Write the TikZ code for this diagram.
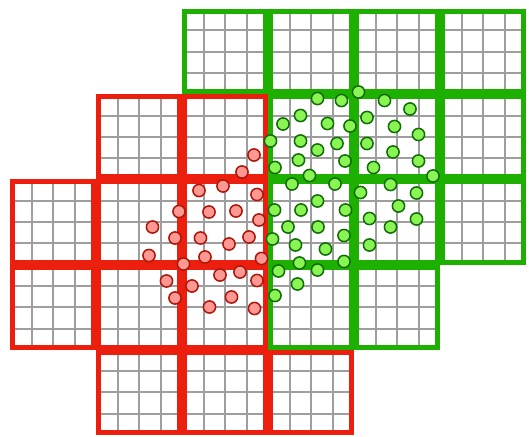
\documentclass[tikz,border=0pt]{standalone}
\definecolor{rd}{RGB}{236,31,14}
\definecolor{gn}{RGB}{30,176,0}
\definecolor{rdfill}{RGB}{255,152,147}
\definecolor{rdedge}{RGB}{175,22,10}
\definecolor{gnfill}{RGB}{136,245,82}
\definecolor{gnedge}{RGB}{18,108,10}
\definecolor{gridgray}{RGB}{158,158,158}
\tikzset{
  gridline/.style={draw=gridgray, line width=2pt},
  redborder/.style={draw=rd, line width=5pt},
  greenborder/.style={draw=gn, line width=5pt},
  reddot/.style={draw=rdedge, fill=rdfill, line width=1.5pt},
  greendot/.style={draw=gnedge, fill=gnfill, line width=1.5pt},
}
\begin{document}
\begin{tikzpicture}[x=1pt,y=-1pt]
\useasboundingbox (0,0) rectangle (529,436);
\fill[white] (0,0) rectangle (529,436);
% block lists: col/row
\def\redblocks{1/1,2/1,0/2,1/2,2/2,0/3,1/3,2/3,1/4,2/4,3/4}
\def\greenblocks{2/0,3/0,4/0,5/0,3/1,4/1,5/1,3/2,4/2,5/2,3/3,4/3}
% grid lines
\foreach \c/\r in {1/1,2/1,0/2,1/2,2/2,0/3,1/3,2/3,1/4,2/4,3/4,2/0,3/0,4/0,5/0,3/1,4/1,5/1,3/2,4/2,5/2,3/3,4/3} {
  \pgfmathsetmacro\bx{10+86*\c}
  \pgfmathsetmacro\by{9+85.2*\r}
  \foreach \k in {1,2,3} {
    \draw[gridline] ({\bx+21.5*\k},\by) -- ({\bx+21.5*\k},{\by+85.2});
    \draw[gridline] (\bx,{\by+21.3*\k}) -- ({\bx+86},{\by+21.3*\k});
  }
}
% borders
\foreach \c/\r in \redblocks {
  \pgfmathsetmacro\bx{10+86*\c}
  \pgfmathsetmacro\by{9+85.2*\r}
  \draw[redborder] ({\bx+2.5},{\by+2.5}) rectangle ({\bx+83.5},{\by+82.7});
}
\foreach \c/\r in \greenblocks {
  \pgfmathsetmacro\bx{10+86*\c}
  \pgfmathsetmacro\by{9+85.2*\r}
  \draw[greenborder] ({\bx+2.5},{\by+2.5}) rectangle ({\bx+83.5},{\by+82.7});
}
% red points
\foreach \x/\y in {254/155,242/172,199/190.5,223/186,257/194.5,179/211.5,209/212,236/211,259/220,152.5/227,
  175/238,200.5/238,229/244,249/237,149/255.5,183.5/264,205/257,261.5/258.5,220/275,240/272,
  166.5/281,192/286,257/280.5,175/298,231.5/297,209.5/307,254.5/308.5}
  \draw[reddot] (\x,\y) circle (6.1);
% green points
\foreach \x/\y in {317.5/98.5,341.5/100.5,358.5/92,384.5/100.5,410/109,300.5/115.5,283/124,327.5/123.5,350/126,367/117.5,
  394.5/126.5,418.5/134.5,270.5/141,300.5/141,337/143.5,317.5/150,367/143.5,393/152,298.5/160,345/161,
  275/167.5,373.5/167.5,418.5/161,309.5/175.5,433/176,292/184,335/184,360.5/192.5,390.5/184.5,416.5/193,
  317.5/201,274.5/210,301/210,345.5/210,398.5/206,369.5/218.5,416.5/219,288/227,318/227,344/235.5,
  390.5/227,272.5/239,295.5/245,325.5/249,369.5/245,299.5/263,344/261.5,278.5/271,317.5/270,297.5/284,
  275/295.5}
  \draw[greendot] (\x,\y) circle (6.1);
\end{tikzpicture}
\end{document}
